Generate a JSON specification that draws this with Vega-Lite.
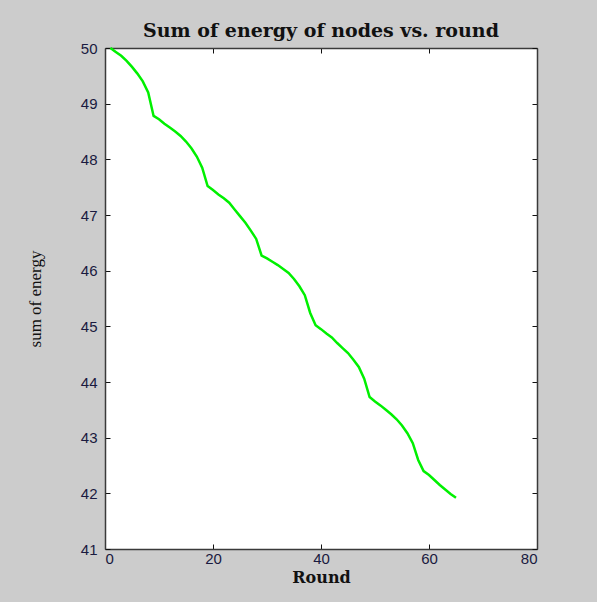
{
  "$schema": "https://vega.github.io/schema/vega-lite/v6.json",
  "autosize": {"type": "none"},
  "width": 432,
  "height": 501,
  "padding": {"left": 105, "top": 48, "right": 60, "bottom": 53},
  "background": "#cccccc",
  "title": {
    "text": "Sum of energy of nodes vs. round",
    "font": "DejaVu Serif",
    "fontSize": 19,
    "fontWeight": "bold",
    "color": "#111111",
    "offset": 0,
    "anchor": "middle"
  },
  "config": {
    "view": {"fill": "white", "stroke": null},
    "axis": {
      "grid": false,
      "labelFont": "Liberation Sans",
      "labelFontSize": 15,
      "labelColor": "#1a1a40",
      "domainColor": "#3a3a3a",
      "domainWidth": 1.5,
      "tickColor": "#111111",
      "tickSize": -5,
      "tickWidth": 1
    }
  },
  "data": {
    "values": [
      {"round": 1, "energy": 50.0},
      {"round": 2, "energy": 49.93},
      {"round": 3, "energy": 49.86},
      {"round": 4, "energy": 49.77},
      {"round": 5, "energy": 49.66},
      {"round": 6, "energy": 49.54},
      {"round": 7, "energy": 49.4},
      {"round": 8, "energy": 49.2},
      {"round": 9, "energy": 48.78},
      {"round": 10, "energy": 48.72},
      {"round": 11, "energy": 48.64},
      {"round": 12, "energy": 48.57},
      {"round": 13, "energy": 48.5},
      {"round": 14, "energy": 48.42},
      {"round": 15, "energy": 48.32},
      {"round": 16, "energy": 48.2},
      {"round": 17, "energy": 48.05},
      {"round": 18, "energy": 47.85},
      {"round": 19, "energy": 47.52},
      {"round": 20, "energy": 47.45},
      {"round": 21, "energy": 47.37},
      {"round": 22, "energy": 47.3},
      {"round": 23, "energy": 47.22},
      {"round": 24, "energy": 47.1},
      {"round": 25, "energy": 46.98},
      {"round": 26, "energy": 46.86},
      {"round": 27, "energy": 46.72},
      {"round": 28, "energy": 46.57},
      {"round": 29, "energy": 46.27},
      {"round": 30, "energy": 46.22},
      {"round": 31, "energy": 46.16},
      {"round": 32, "energy": 46.1},
      {"round": 33, "energy": 46.03},
      {"round": 34, "energy": 45.96},
      {"round": 35, "energy": 45.85},
      {"round": 36, "energy": 45.72},
      {"round": 37, "energy": 45.56},
      {"round": 38, "energy": 45.24},
      {"round": 39, "energy": 45.02},
      {"round": 40, "energy": 44.95},
      {"round": 41, "energy": 44.87},
      {"round": 42, "energy": 44.8},
      {"round": 43, "energy": 44.7},
      {"round": 44, "energy": 44.61},
      {"round": 45, "energy": 44.52},
      {"round": 46, "energy": 44.4},
      {"round": 47, "energy": 44.27},
      {"round": 48, "energy": 44.06},
      {"round": 49, "energy": 43.73},
      {"round": 50, "energy": 43.65},
      {"round": 51, "energy": 43.58},
      {"round": 52, "energy": 43.5},
      {"round": 53, "energy": 43.42},
      {"round": 54, "energy": 43.33},
      {"round": 55, "energy": 43.22},
      {"round": 56, "energy": 43.08},
      {"round": 57, "energy": 42.9},
      {"round": 58, "energy": 42.6},
      {"round": 59, "energy": 42.4},
      {"round": 60, "energy": 42.33},
      {"round": 61, "energy": 42.24},
      {"round": 62, "energy": 42.15},
      {"round": 63, "energy": 42.07},
      {"round": 64, "energy": 41.99},
      {"round": 65, "energy": 41.92}
    ]
  },
  "layer": [
    {
      "mark": {"type": "line", "color": "#00ee00", "strokeWidth": 0},
      "encoding": {
        "x": {"field": "round", "type": "quantitative", "scale": {"domain": [0, 80], "nice": false, "zero": false},
              "axis": {"orient": "top", "values": [0, 20, 40, 60, 80], "labels": false, "title": null}},
        "y": {"field": "energy", "type": "quantitative", "scale": {"domain": [41, 50], "nice": false, "zero": false},
              "axis": {"orient": "right", "values": [41, 42, 43, 44, 45, 46, 47, 48, 49, 50], "labels": false, "title": null}}
      }
    },
    {
      "mark": {"type": "line", "color": "#00f000", "strokeWidth": 2.5},
      "encoding": {
        "x": {"field": "round", "type": "quantitative", "scale": {"domain": [0, 80], "nice": false, "zero": false},
              "axis": {"orient": "bottom", "values": [0, 20, 40, 60, 80], "labelPadding": 7, "title": "Round",
                       "titleFont": "DejaVu Serif", "titleFontSize": 16, "titleFontWeight": "bold", "titleColor": "#111111", "titlePadding": 3}},
        "y": {"field": "energy", "type": "quantitative", "scale": {"domain": [41, 50], "nice": false, "zero": false},
              "axis": {"orient": "left", "values": [41, 42, 43, 44, 45, 46, 47, 48, 49, 50], "labelPadding": 13, "title": "sum of energy",
                       "titleFont": "Liberation Serif", "titleFontSize": 17, "titleFontWeight": "normal", "titleColor": "#111111", "titlePadding": 36}}
      }
    }
  ],
  "resolve": {"scale": {"x": "independent", "y": "independent"}, "axis": {"x": "independent", "y": "independent"}}
}
